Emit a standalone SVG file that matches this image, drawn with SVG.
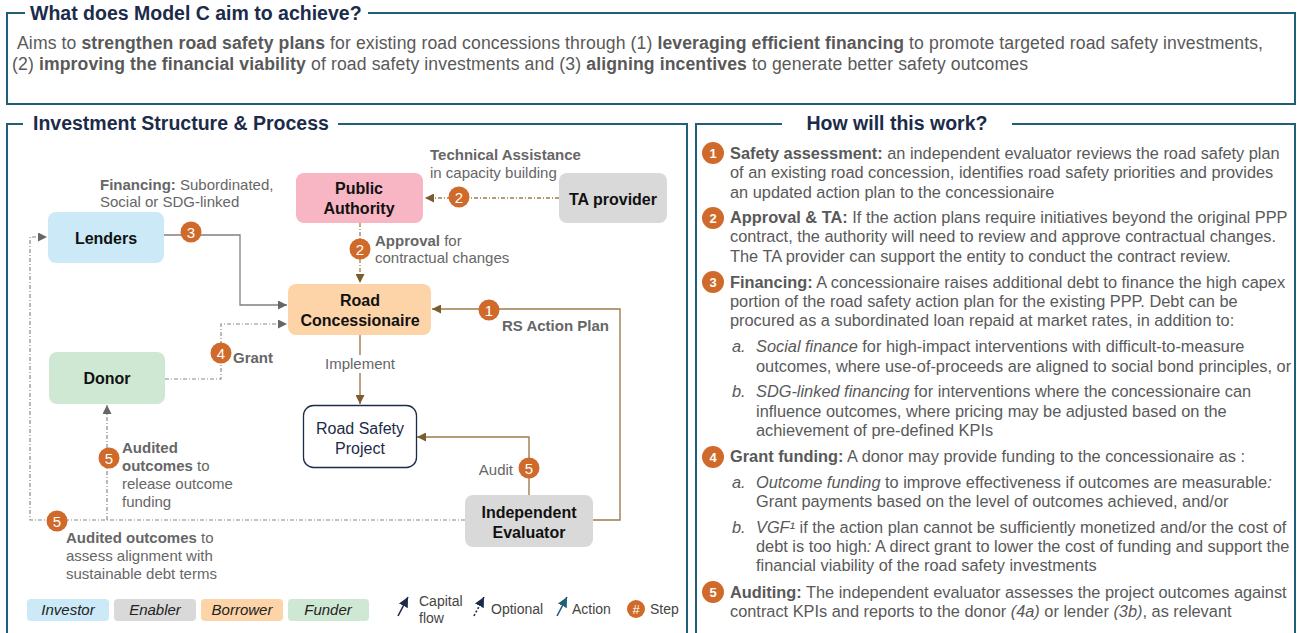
<svg xmlns="http://www.w3.org/2000/svg" width="1298" height="633" viewBox="0 0 1298 633">
<defs>
<style>
text{font-family:"Liberation Sans",Arial,sans-serif}
.frame{fill:none;stroke:#1f5f7a;stroke-width:2}
.ttl{font-size:19.5px;font-weight:bold;fill:#1c2b4a}
.body{font-size:16.35px;fill:#595959}
.top{font-size:17.6px;fill:#595959}
.lbl{font-size:15px;fill:#666}
.b{font-weight:bold}
.i{font-style:italic}
.node{font-size:16px;font-weight:bold;fill:#111;text-anchor:middle}
.badge{fill:#cf6a2a}
.bn{font-size:15px;fill:#fff;text-anchor:middle}
.rbn{font-size:13px;font-weight:bold;fill:#fff;text-anchor:middle}
.gs{fill:none;stroke:#808080;stroke-width:1.3}
.gd{fill:none;stroke:#8a8a8a;stroke-width:1.2;stroke-dasharray:4 2 1 2}
.bs{fill:none;stroke:#9c7c4c;stroke-width:1.4}
.bd{fill:none;stroke:#9c7c4c;stroke-width:1.3;stroke-dasharray:4 2 1 2}
.leg{font-size:15px;font-style:italic;fill:#222;text-anchor:middle}
.lt{font-size:14px;fill:#444}
</style>
<marker id="ag" viewBox="0 0 10 10" refX="10" refY="5" markerWidth="9" markerHeight="9" markerUnits="userSpaceOnUse" orient="auto"><path d="M0,0 L10,5 L0,10 z" fill="#666"/></marker>
<marker id="ab" viewBox="0 0 10 10" refX="10" refY="5" markerWidth="9" markerHeight="9" markerUnits="userSpaceOnUse" orient="auto"><path d="M0,0 L10,5 L0,10 z" fill="#7a5c2e"/></marker>
<marker id="an" viewBox="0 0 10 10" refX="10" refY="5" markerWidth="10" markerHeight="10" markerUnits="userSpaceOnUse" orient="auto"><path d="M0,0 L10,5 L0,10 z" fill="#1c2b4a"/></marker>
<marker id="at" viewBox="0 0 10 10" refX="10" refY="5" markerWidth="10" markerHeight="10" markerUnits="userSpaceOnUse" orient="auto"><path d="M0,0 L10,5 L0,10 z" fill="#1f5f7a"/></marker>
</defs>
<rect width="1298" height="633" fill="#fff"/>

<!-- Top box -->
<g id="aim">
<path class="frame" d="M25,13 H7 V104 H1295 V13 H368"/>
<text class="ttl" x="30" y="20">What does Model C aim to achieve?</text>
<text class="top" x="17" y="49" textLength="1246" lengthAdjust="spacing">Aims to <tspan class="b">strengthen road safety plans</tspan> for existing road concessions through  (1) <tspan class="b">leveraging efficient financing</tspan> to promote targeted road safety investments,</text>
<text class="top" x="12" y="70" textLength="1016" lengthAdjust="spacing">(2) <tspan class="b">improving the financial viability</tspan> of road safety investments and (3) <tspan class="b">aligning incentives</tspan> to generate better safety outcomes</text>
</g>

<!-- Left panel frame -->
<g id="left-panel">
<path class="frame" d="M23,124 H7 V640 M687,640 V124 H338"/>
<text class="ttl" x="33" y="130">Investment Structure &amp; Process</text>
</g>

<!-- Right panel frame -->
<g id="right-panel">
<path class="frame" d="M782,124 H696 V640 M1295,640 V124 H1012"/>
<text class="ttl" x="897" y="130" text-anchor="middle">How will this work?</text>
</g>

<!-- Connectors -->
<g id="connectors">
<polyline class="gs" points="164,235 240,235 240,305 287,305" marker-end="url(#ag)"/>
<polyline class="gd" points="165,379 221,379 221,324 287,324" marker-end="url(#ag)"/>
<line class="bd" x1="559" y1="198" x2="425" y2="198" marker-end="url(#ab)"/>
<line class="bd" x1="360" y1="223" x2="360" y2="283" marker-end="url(#ab)"/>
<polyline class="bs" points="593,520 620,520 620,309 432,309" marker-end="url(#ab)"/>
<line class="bs" x1="360" y1="335" x2="360" y2="404" marker-end="url(#ab)"/>
<polyline class="bs" points="529,495 529,437 417,437" marker-end="url(#ab)"/>
<polyline class="gd" points="465,520 30,520 30,237 47,237" marker-end="url(#ag)"/>
<line class="gd" x1="107" y1="520" x2="107" y2="405" marker-end="url(#ag)"/>
<rect x="322" y="355" width="76" height="18" fill="#fff"/>
<text class="lbl" x="360" y="369" text-anchor="middle">Implement</text>
</g>

<!-- Nodes -->
<g id="public-authority">
<rect x="296" y="173" width="127" height="50" rx="8" fill="#f8b5c4"/>
<text class="node" x="359" y="194">Public</text>
<text class="node" x="359" y="214">Authority</text>
</g>
<g id="ta-provider">
<rect x="559" y="173" width="108" height="50" rx="8" fill="#d9d9d9"/>
<text class="node" x="613" y="205">TA provider</text>
</g>
<g id="lenders">
<rect x="48" y="212" width="116" height="51" rx="8" fill="#cbe9f7"/>
<text class="node" x="106" y="244">Lenders</text>
</g>
<g id="road-concessionaire">
<rect x="288" y="284" width="143" height="51" rx="8" fill="#fcd4a8"/>
<text class="node" x="360" y="306">Road</text>
<text class="node" x="360" y="326">Concessionaire</text>
</g>
<g id="donor">
<rect x="49" y="352" width="116" height="52" rx="8" fill="#cfe8d4"/>
<text class="node" x="107" y="384">Donor</text>
</g>
<g id="road-safety-project">
<rect x="303.5" y="405.5" width="113" height="62" rx="10" fill="#fff" stroke="#1c2b4a" stroke-width="1.3"/>
<text x="360" y="434" font-size="16" fill="#1c2b4a" text-anchor="middle">Road Safety</text>
<text x="360" y="454" font-size="16" fill="#1c2b4a" text-anchor="middle">Project</text>
</g>
<g id="independent-evaluator">
<rect x="465" y="495" width="128" height="52" rx="8" fill="#d9d9d9"/>
<text class="node" x="529" y="518">Independent</text>
<text class="node" x="529" y="538">Evaluator</text>
</g>

<!-- Step badges and labels -->
<g id="labels">
<text class="lbl" x="100" y="190"><tspan class="b">Financing:</tspan> Subordinated,</text>
<text class="lbl" x="100" y="207">Social or SDG-linked</text>
<circle class="badge" cx="191" cy="232" r="10.5"/><text class="bn" x="191" y="237.5">3</text>

<text class="lbl" x="430" y="160"><tspan class="b">Technical Assistance</tspan></text>
<text class="lbl" x="430" y="178">in capacity building</text>
<circle class="badge" cx="459" cy="197" r="10.5"/><text class="bn" x="459" y="202.5">2</text>

<circle class="badge" cx="360" cy="249" r="10.5"/><text class="bn" x="360" y="254.5">2</text>
<text class="lbl" x="375" y="246"><tspan class="b">Approval</tspan> for</text>
<text class="lbl" x="375" y="263">contractual changes</text>

<circle class="badge" cx="489" cy="310" r="10.5"/><text class="bn" x="489" y="315.5">1</text>
<text class="lbl b" x="502" y="331">RS Action Plan</text>

<circle class="badge" cx="221" cy="353" r="10.5"/><text class="bn" x="221" y="358.5">4</text>
<text class="lbl b" x="233" y="363">Grant</text>

<circle class="badge" cx="529" cy="468" r="10.5"/><text class="bn" x="529" y="473.5">5</text>
<text class="lbl" x="513" y="475" text-anchor="end">Audit</text>

<circle class="badge" cx="109" cy="458" r="10.5"/><text class="bn" x="109" y="463.5">5</text>
<text class="lbl" x="122" y="453"><tspan class="b">Audited</tspan></text>
<text class="lbl" x="122" y="471"><tspan class="b">outcomes</tspan> to</text>
<text class="lbl" x="122" y="489">release outcome</text>
<text class="lbl" x="122" y="507">funding</text>

<circle class="badge" cx="57" cy="521" r="10.5"/><text class="bn" x="57" y="526.5">5</text>
<text class="lbl" x="66" y="543"><tspan class="b">Audited outcomes</tspan> to</text>
<text class="lbl" x="66" y="561">assess alignment with</text>
<text class="lbl" x="66" y="579">sustainable debt terms</text>
</g>

<!-- Legend -->
<g id="legend">
<rect x="27" y="599" width="82" height="22" rx="4" fill="#cbe9f7"/>
<text class="leg" x="68" y="615">Investor</text>
<rect x="114" y="599" width="82" height="22" rx="4" fill="#d9d9d9"/>
<text class="leg" x="155" y="615">Enabler</text>
<rect x="201" y="599" width="82" height="22" rx="4" fill="#fcd4a8"/>
<text class="leg" x="242" y="615">Borrower</text>
<rect x="288" y="599" width="81" height="22" rx="4" fill="#cfe8d4"/>
<text class="leg" x="328" y="615">Funder</text>
<line x1="398" y1="616" x2="408" y2="597" stroke="#1c2b4a" stroke-width="1.6" marker-end="url(#an)"/>
<text class="lt" x="419" y="606">Capital</text>
<text class="lt" x="419" y="623">flow</text>
<line x1="474" y1="616" x2="484" y2="597" stroke="#1c2b4a" stroke-width="1.6" stroke-dasharray="2 2" marker-end="url(#an)"/>
<text class="lt" x="491" y="614">Optional</text>
<line x1="557" y1="616" x2="567" y2="597" stroke="#1f5f7a" stroke-width="1.6" marker-end="url(#at)"/>
<text class="lt" x="572" y="614">Action</text>
<circle class="badge" cx="636" cy="609" r="9"/>
<text x="636" y="614" font-size="13" fill="#fff" text-anchor="middle">#</text>
<text class="lt" x="650" y="614">Step</text>
</g>

<!-- Right panel steps -->
<g id="step-1">
<circle class="badge" cx="713" cy="153" r="11"/><text class="rbn" x="713" y="158">1</text>
<text class="body" x="730" y="159"><tspan class="b">Safety assessment:</tspan> an independent evaluator reviews the road safety plan</text>
<text class="body" x="730" y="178">of an existing road concession, identifies road safety priorities and provides</text>
<text class="body" x="730" y="198">an updated action plan to the concessionaire</text>
</g>
<g id="step-2">
<circle class="badge" cx="713" cy="218" r="11"/><text class="rbn" x="713" y="223">2</text>
<text class="body" x="730" y="223"><tspan class="b">Approval &amp; TA:</tspan> If the action plans require initiatives beyond the original PPP</text>
<text class="body" x="730" y="242">contract, the authority will need to review and approve contractual changes.</text>
<text class="body" x="730" y="262">The TA provider can support the entity to conduct the contract review.</text>
</g>
<g id="step-3">
<circle class="badge" cx="713" cy="282" r="11"/><text class="rbn" x="713" y="287">3</text>
<text class="body" x="730" y="288"><tspan class="b">Financing:</tspan> A concessionaire raises additional debt to finance the high capex</text>
<text class="body" x="730" y="307">portion of the road safety action plan for the existing PPP. Debt can be</text>
<text class="body" x="730" y="326">procured as a subordinated loan repaid at market rates, in addition to:</text>
<text class="body i" x="732" y="352">a.</text>
<text class="body" x="756" y="352"><tspan class="i">Social finance</tspan> for high-impact interventions with difficult-to-measure</text>
<text class="body" x="756" y="372">outcomes, where use-of-proceeds are aligned to social bond principles, or</text>
<text class="body i" x="732" y="397">b.</text>
<text class="body" x="756" y="397"><tspan class="i">SDG-linked financing</tspan> for interventions where the concessionaire can</text>
<text class="body" x="756" y="417">influence outcomes, where pricing may be adjusted based on the</text>
<text class="body" x="756" y="436">achievement of pre-defined KPIs</text>
</g>
<g id="step-4">
<circle class="badge" cx="713" cy="457" r="11"/><text class="rbn" x="713" y="462">4</text>
<text class="body" x="730" y="462"><tspan class="b">Grant funding:</tspan> A donor may provide funding to the concessionaire as :</text>
<text class="body i" x="732" y="488">a.</text>
<text class="body" x="756" y="488"><tspan class="i">Outcome funding</tspan> to improve effectiveness if outcomes are measurable<tspan class="i">:</tspan></text>
<text class="body" x="756" y="507">Grant payments based on the level of outcomes achieved, and/or</text>
<text class="body i" x="732" y="533">b.</text>
<text class="body" x="756" y="533"><tspan class="i">VGF¹</tspan> if the action plan cannot be sufficiently monetized and/or the cost of</text>
<text class="body" x="756" y="552">debt is too high<tspan class="i">:</tspan> A direct grant to lower the cost of funding and support the</text>
<text class="body" x="756" y="571">financial viability of the road safety investments</text>
</g>
<g id="step-5">
<circle class="badge" cx="713" cy="592" r="11"/><text class="rbn" x="713" y="597">5</text>
<text class="body" x="730" y="598"><tspan class="b">Auditing:</tspan> The independent evaluator assesses the project outcomes against</text>
<text class="body" x="730" y="617">contract KPIs and reports to the donor <tspan class="i">(4a)</tspan> or lender <tspan class="i">(3b)</tspan>, as relevant</text>
</g>
</svg>
